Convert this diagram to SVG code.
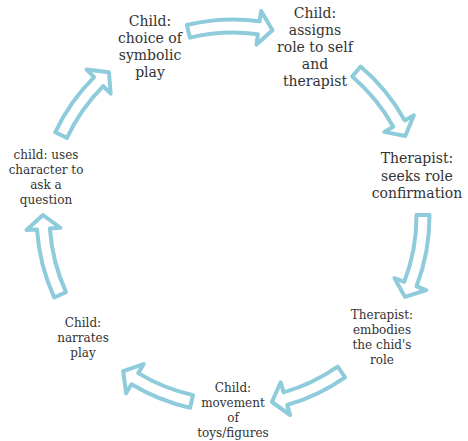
<svg xmlns="http://www.w3.org/2000/svg" width="468" height="441" viewBox="0 0 468 441">
<style>
.arr{fill:#ffffff;stroke:#8ECBDB;stroke-width:4;stroke-linejoin:round}
.t{font-family:"DejaVu Serif","Liberation Serif",serif;fill:#333333;text-anchor:middle}
.big{font-size:14px}
.sm{font-size:12px}
</style>
<rect width="468" height="441" fill="#ffffff"/>
<g id="connectors">
<path class="arr" d="M186.8,25.0 A196.5,196.5 0 0 1 259.7,21.3 L261.1,10.9 L272.5,30.2 L256.5,44.6 L257.9,34.2 A183.5,183.5 0 0 0 189.9,37.6 Z"/>
<path class="arr" d="M360.6,66.6 A196.5,196.5 0 0 1 404.7,120.4 L413.9,115.3 L405.3,136.0 L384.2,131.9 L393.3,126.8 A183.5,183.5 0 0 0 352.2,76.5 Z"/>
<path class="arr" d="M429.5,215.0 A196.5,196.5 0 0 1 416.5,286.4 L426.3,290.2 L404.9,296.9 L394.5,278.0 L404.3,281.8 A183.5,183.5 0 0 0 416.5,215.0 Z"/>
<path class="arr" d="M345.1,377.3 A196.5,196.5 0 0 1 287.2,404.9 L290.1,415.0 L271.9,402.0 L280.7,382.3 L283.6,392.4 A183.5,183.5 0 0 0 337.7,366.7 Z"/>
<path class="arr" d="M190.1,407.8 A196.5,196.5 0 0 1 131.5,384.3 L126.1,393.3 L123.2,371.1 L143.6,364.1 L138.2,373.1 A183.5,183.5 0 0 0 193.0,395.1 Z"/>
<path class="arr" d="M54.2,297.5 A196.5,196.5 0 0 1 37.0,229.4 L26.5,230.1 L43.0,215.0 L60.4,227.8 L49.9,228.5 A183.5,183.5 0 0 0 66.0,292.1 Z"/>
<path class="arr" d="M55.2,132.3 A196.5,196.5 0 0 1 94.1,77.1 L86.6,69.6 L108.9,72.2 L110.7,93.7 L103.2,86.2 A183.5,183.5 0 0 0 67.0,137.9 Z"/>
</g>
<g id="node-choice">
<text class="t big" x="150" y="26">Child:</text>
<text class="t big" x="150" y="43">choice of</text>
<text class="t big" x="150" y="60">symbolic</text>
<text class="t big" x="150" y="77">play</text>
</g>
<g id="node-assigns">
<text class="t big" x="315" y="18">Child:</text>
<text class="t big" x="315" y="35">assigns</text>
<text class="t big" x="315" y="52">role to self</text>
<text class="t big" x="315" y="69">and</text>
<text class="t big" x="315" y="86">therapist</text>
</g>
<g id="node-seeks">
<text class="t big" x="417" y="163">Therapist:</text>
<text class="t big" x="417" y="181">seeks role</text>
<text class="t big" x="417" y="198">confirmation</text>
</g>
<g id="node-embodies">
<text class="t sm" x="382" y="319">Therapist:</text>
<text class="t sm" x="382" y="334">embodies</text>
<text class="t sm" x="382" y="349">the chid's</text>
<text class="t sm" x="382" y="364">role</text>
</g>
<g id="node-movement">
<text class="t sm" x="233" y="392">Child:</text>
<text class="t sm" x="233" y="407">movement</text>
<text class="t sm" x="233" y="422">of</text>
<text class="t sm" x="233" y="437">toys/figures</text>
</g>
<g id="node-narrates">
<text class="t sm" x="83" y="327">Child:</text>
<text class="t sm" x="83" y="342">narrates</text>
<text class="t sm" x="83" y="357">play</text>
</g>
<g id="node-uses">
<text class="t sm" x="46" y="159">child: uses</text>
<text class="t sm" x="46" y="174">character to</text>
<text class="t sm" x="46" y="189">ask a</text>
<text class="t sm" x="46" y="204">question</text>
</g>
</svg>
